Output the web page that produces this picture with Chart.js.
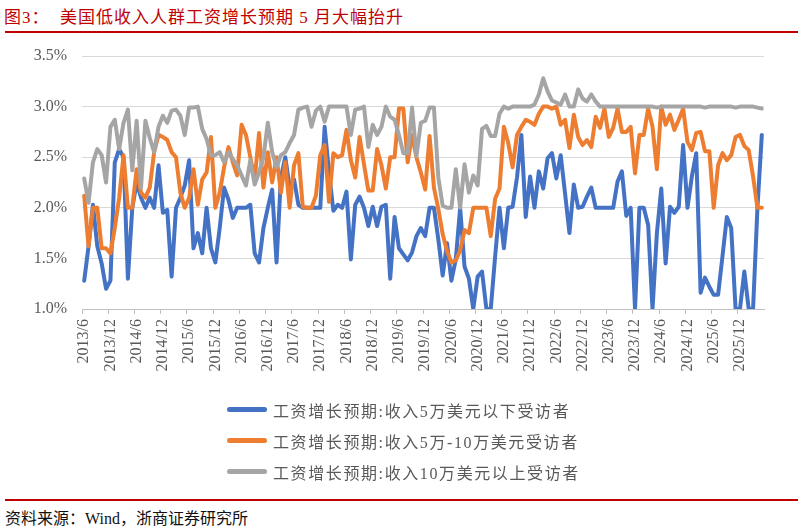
<!DOCTYPE html>
<html>
<head>
<meta charset="utf-8">
<script src="https://cdn.jsdelivr.net/npm/chart.js@4/dist/chart.umd.min.js"></script>
<style>
  body { margin: 0; background: #fff; }
  #page { position: relative; width: 802px; height: 531px; overflow: hidden;
          font-family: "Liberation Serif", "Noto Sans CJK SC", serif; }
  #title { position: absolute; left: 4px; top: 3px; font-size: 17px; color: #C00000;
           white-space: pre; letter-spacing: 1px; }
  .rule { position: absolute; left: 5px; width: 793px; height: 1.5px; background: #C00000; }
  #wrap { position: absolute; left: 0; top: 0; width: 802px; height: 395px; }
  #legend { position: absolute; left: 227px; top: 394px; }
  .item { height: 31px; display: flex; align-items: center; font-size: 16px; color: #595959;
          letter-spacing: 1.6px; white-space: nowrap; }
  .sw { width: 40px; height: 5px; border-radius: 3px; margin-right: 6px; }
  #source { position: absolute; left: 5px; top: 505px; font-size: 16px; color: #111; }
</style>
</head>
<body>
<div id="page">
  <div id="title">图3：  美国低收入人群工资增长预期 5 月大幅抬升</div>
  <div class="rule" style="top:31px"></div>
  <div id="wrap"><canvas id="myChart"></canvas></div>
  <div id="legend"></div>
  <div class="rule" style="top:499px"></div>
  <div id="source">资料来源：Wind，浙商证券研究所</div>
</div>
<script>
// monthly, 2013/6 .. 2026/5
const months = [];
for (let y = 2013; y <= 2026; y++) {
  for (let m = 1; m <= 12; m++) {
    if ((y === 2013 && m < 6) || (y === 2026 && m > 5)) continue;
    months.push(y + '/' + m);
  }
}

const seriesNames = [
  '工资增长预期:收入5万美元以下受访者',
  '工资增长预期:收入5万-10万美元受访者',
  '工资增长预期:收入10万美元以上受访者'
];
const seriesColors = ['#4472C4', '#ED7D31', '#A5A5A5'];

const below50k = [
  1.28, 1.62, 2.03, 1.62, 1.45, 1.2, 1.28, 2.45, 2.58, 2.5,
  1.3, 2.0, 2.25, 2.1, 2.0, 2.1, 2.0, 2.42, 1.95, 1.98,
  1.32, 2.0, 2.1, 2.22, 2.47, 1.6, 1.75, 1.55, 2.0, 1.6,
  1.46, 1.8, 2.2, 2.08, 1.9, 2.0, 2.0, 2.0, 2.03, 1.55,
  1.46, 1.8, 2.0, 2.18, 1.46, 2.3, 2.5, 2.2, 2.28, 2.03,
  2.0, 2.0, 2.0, 2.0, 2.0, 2.8, 2.35, 1.97, 2.03, 2.0,
  2.16, 1.49, 2.03, 2.11, 2.0, 1.82, 2.01, 1.82, 2.01, 2.03,
  1.3, 1.91, 1.6, 1.54, 1.48, 1.56, 1.72, 1.8, 1.72, 2.0,
  2.0, 1.69, 1.33, 1.65, 1.28, 1.49, 2.0, 1.42, 1.3, 1.0,
  1.32, 1.37, 1.0, 1.0, 1.52, 2.0, 1.6, 2.0, 2.01, 2.3,
  2.72, 1.91, 2.31, 2.0, 2.36, 2.19, 2.49, 2.54, 2.29, 2.52,
  2.14, 1.75, 2.23, 2.0, 2.01, 2.11, 2.2, 2.0, 2.0, 2.0,
  2.0, 2.0, 2.26, 2.36, 1.92, 2.0, 1.0, 2.0, 2.0, 1.83,
  1.0, 1.75, 2.19, 1.45, 2.01, 1.95, 2.01, 2.62, 2.0, 2.31,
  2.54, 1.16, 1.31, 1.22, 1.14, 1.14, 1.52, 1.91, 1.8, 1.0,
  1.0, 1.37, 1.0, 1.0, 2.0, 2.72
];

const from50kTo100k = [
  2.12, 1.62, 2.0, 2.0, 1.6, 1.6, 1.55, 1.8, 2.1, 2.52,
  2.0, 2.0, 2.38, 2.15, 2.1, 2.2, 2.55, 2.72, 2.7, 2.67,
  2.55, 2.5, 2.15, 2.0, 2.1, 2.38, 2.03, 2.28, 2.35, 2.7,
  2.0, 2.15, 2.4, 2.6, 2.45, 2.32, 2.82, 2.72, 2.5, 2.28,
  2.74, 2.2, 2.55, 2.25, 2.5, 2.15, 2.45, 2.0, 2.42, 2.54,
  2.01, 2.0, 2.0, 2.12, 2.52, 2.62, 2.06, 2.54, 2.5, 2.52,
  2.77, 2.47, 2.3, 2.7, 2.43, 2.17, 2.17, 2.58, 2.42, 2.19,
  2.5, 2.5, 2.98, 2.98, 2.45, 2.72, 2.5, 2.35, 2.18, 2.71,
  2.2, 1.99, 1.74, 1.57, 1.46, 1.48, 1.58, 1.78, 1.75, 2.0,
  2.0, 2.0, 2.0, 1.72, 2.09, 2.19, 2.8, 2.64, 2.4, 2.72,
  2.8, 2.87, 2.85, 2.82, 2.93, 3.0, 3.0, 2.98, 3.0, 2.82,
  2.87, 2.59, 2.92, 2.7, 2.62, 2.67, 2.6, 2.9, 2.79, 2.98,
  2.7, 2.79, 2.98, 2.75, 2.75, 2.8, 2.34, 2.72, 2.72, 2.98,
  2.8, 2.38, 3.0, 2.82, 2.92, 2.77, 2.87, 2.98, 2.65, 2.57,
  2.74, 2.75, 2.56, 2.56, 2.0, 2.42, 2.54, 2.47, 2.52, 2.7,
  2.72, 2.61, 2.57, 2.31, 2.0, 2.0
];

const above100k = [
  2.29, 2.05, 2.45, 2.58, 2.52, 2.25, 2.8, 2.87, 2.58, 2.84,
  2.97, 2.37, 2.86, 2.2, 2.86, 2.69, 2.55, 2.8, 2.91, 2.84,
  2.96, 2.97, 2.91, 2.72, 2.99, 2.99, 3.0, 2.78, 2.68, 2.52,
  2.52, 2.55, 2.45, 2.55, 2.48, 2.42, 2.32, 2.22, 2.47, 2.23,
  2.35, 2.5, 2.84, 2.55, 2.4, 2.52, 2.55, 2.64, 2.72, 2.97,
  2.99, 3.0, 2.8, 2.96, 3.0, 2.85, 3.0, 3.0, 3.0, 3.0,
  3.0, 2.72, 2.97, 2.98, 3.0, 2.6, 2.82, 2.72, 2.8, 3.0,
  2.9, 2.87, 2.72, 2.54, 2.54, 2.99, 2.51, 2.84, 2.86, 2.99,
  2.99, 2.3, 2.02, 2.0, 2.0, 2.38, 2.0, 2.43, 2.15, 2.32,
  2.22, 2.78, 2.81, 2.71, 2.71, 2.93, 3.0, 2.98, 3.0, 3.0,
  3.0, 3.0, 3.0, 3.02, 3.12, 3.28, 3.15, 3.06, 3.04, 3.02,
  3.12, 3.0, 3.0, 3.17, 3.08, 3.05, 3.12, 3.05, 3.0, 3.0,
  3.0, 3.0, 3.0, 3.0, 3.0, 3.0, 3.0, 3.0, 3.0, 3.0,
  3.0, 2.99, 3.0, 3.0, 3.0, 3.0, 3.0, 3.0, 3.0, 3.0,
  3.0, 3.0, 2.99, 3.0, 3.0, 3.0, 3.0, 3.0, 3.0, 2.99,
  3.0, 3.0, 3.0, 3.0, 2.99, 2.98
];

const yTicks = [1.0, 1.5, 2.0, 2.5, 3.0, 3.5];

const allSeries = [below50k, from50kTo100k, above100k];
const fontFamily = '"Liberation Serif", "Noto Sans CJK SC", serif';

// html legend, one row per series
const legend = document.getElementById('legend');
seriesNames.forEach((name, i) => {
  const row = document.createElement('div');
  row.className = 'item';
  row.innerHTML = '<span class="sw" style="background:' + seriesColors[i] + '"></span>' + name;
  legend.appendChild(row);
});

const ctx = document.getElementById('myChart').getContext('2d');
new Chart(ctx, {
  type: 'line',
  data: {
    labels: months,
    datasets: allSeries.map((d, i) => ({
      label: seriesNames[i],
      data: d,
      borderColor: seriesColors[i],
      backgroundColor: seriesColors[i],
      borderWidth: 4,
      pointRadius: 0,
      tension: 0,
      borderJoinStyle: 'round',
      borderCapStyle: 'round'
    })).reverse()
  },
  options: {
    responsive: true,
    maintainAspectRatio: false,
    animation: false,
    layout: { padding: { top: 56, right: 38, left: 0, bottom: 0 } },
    plugins: { legend: { display: false }, tooltip: { enabled: false } },
    scales: {
      x: {
        type: 'category',
        offset: true,
        grid: {
          offset: true,
          drawOnChartArea: false,
          tickLength: 5,
          color: (c) => (c.index % 6 === 0 ? '#bfbfbf' : 'transparent')
        },
        border: { display: true, color: '#bfbfbf' },
        ticks: {
          autoSkip: false,
          minRotation: 90,
          maxRotation: 90,
          padding: 5,
          color: '#595959',
          font: { family: fontFamily, size: 16 },
          callback: (v, i) => (i % 6 === 0 ? months[i] : '')
        },
        afterFit: (s) => { s.height = 86; }
      },
      y: {
        min: 1.0,
        max: 3.5,
        afterBuildTicks: (s) => { s.ticks = yTicks.map((v) => ({ value: v })); },
        grid: { color: '#d9d9d9', drawTicks: false },
        border: { display: false },
        ticks: {
          padding: 15,
          color: '#595959',
          font: { family: fontFamily, size: 16 },
          callback: (v) => v.toFixed(1) + '%'
        },
        afterFit: (s) => { s.width = 82; }
      }
    }
  }
});
</script>
</body>
</html>
